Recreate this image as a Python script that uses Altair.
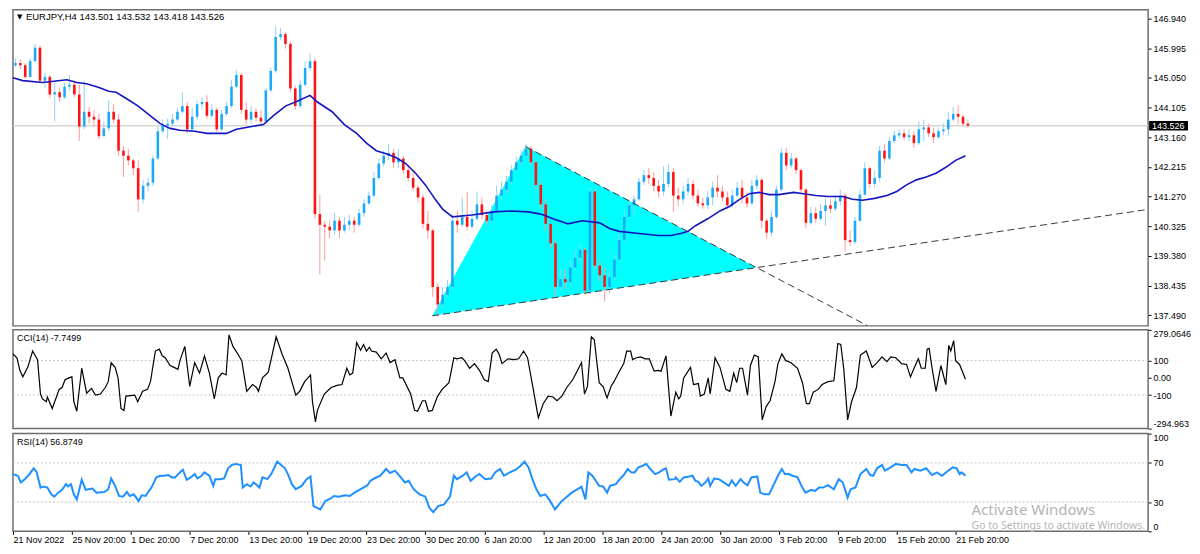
import altair as alt
import pandas as pd

# ---------------- data (EURJPY H4, one candle per two H4 bars) ----------------
close = [145.52, 145.45, 145.08, 145.58, 146.01, 144.96, 145.08, 144.52, 144.59, 144.43,
         144.77, 144.83, 144.52, 143.50, 143.97, 143.81, 143.72, 143.19, 143.44, 143.97,
         143.72, 142.73, 142.57, 142.42, 142.17, 141.18, 141.61, 141.71, 142.48, 143.35,
         143.53, 143.59, 143.72, 143.97, 144.15, 143.41, 143.81, 144.21, 144.28, 143.84,
         144.03, 143.41, 143.90, 144.15, 144.77, 145.14, 144.03, 143.72, 143.97, 143.78,
         143.66, 144.65, 145.27, 146.35, 146.44, 146.13, 144.71, 144.15, 144.83, 145.36,
         145.58, 140.71, 140.37, 140.31, 140.19, 140.50, 140.19, 140.37, 140.50, 140.37,
         140.74, 141.05, 141.30, 141.86, 142.32, 142.57, 142.66, 142.36, 142.48, 142.11,
         141.86, 141.55, 141.24, 140.40, 140.19, 138.39, 137.83, 138.14, 138.39, 140.50,
         140.37, 140.62, 140.31, 140.56, 141.02, 140.68, 140.50, 140.81, 141.30, 141.49,
         141.74, 142.11, 142.36, 142.57, 142.79, 142.36, 141.64, 141.02, 140.40, 139.78,
         138.39, 138.64, 138.54, 139.01, 139.32, 139.57, 138.27, 141.43, 139.07, 138.76,
         138.39, 138.70, 139.26, 139.88, 140.62, 140.99, 141.18, 141.74, 141.95, 141.86,
         141.61, 141.43, 141.67, 142.05, 141.30, 141.18, 141.43, 141.67, 141.30, 141.05,
         140.99, 141.24, 141.55, 141.43, 141.24, 140.99, 141.30, 141.55, 141.24, 141.05,
         141.61, 141.80, 140.50, 140.12, 140.62, 141.49, 142.66, 142.26, 142.48, 142.11,
         141.49, 140.43, 140.74, 140.56, 140.81, 140.99, 140.88, 141.12, 141.30, 139.88,
         139.82, 140.50, 141.33, 142.17, 141.67, 141.86, 142.73, 142.48, 143.04, 143.22,
         143.28, 143.16, 143.22, 142.97, 143.41, 143.47, 143.28, 143.16, 143.35, 143.41,
         143.72, 143.90, 143.81, 143.59, 143.526]

high = [145.67, 145.64, 145.52, 145.67, 146.13, 146.07, 145.21, 145.14, 144.90, 144.74,
        144.90, 145.14, 144.96, 144.83, 144.96, 144.12, 144.03, 143.90, 143.66, 144.34,
        144.21, 143.90, 142.88, 142.79, 142.48, 142.42, 141.80, 141.86, 142.57, 143.50,
        143.72, 143.75, 143.90, 144.09, 144.59, 144.28, 144.09, 144.34, 144.43, 144.49,
        144.21, 144.09, 144.03, 144.28, 144.99, 145.30, 145.21, 144.28, 144.15, 144.09,
        144.03, 144.74, 145.36, 146.69, 146.63, 146.51, 146.20, 144.80, 144.96, 145.58,
        145.83, 145.67, 141.33, 140.50, 140.50, 140.74, 140.62, 140.62, 140.68, 140.62,
        140.88, 141.18, 141.43, 142.05, 142.48, 142.73, 142.94, 142.79, 142.79, 142.57,
        142.23, 142.11, 141.64, 141.33, 140.81, 140.25, 138.51, 138.39, 138.61, 140.71,
        140.81, 141.24, 141.40, 140.81, 141.43, 141.24, 140.81, 140.99, 141.61, 141.74,
        141.92, 142.26, 142.54, 142.73, 142.94, 142.88, 142.42, 141.74, 141.18, 140.40,
        139.88, 138.95, 138.95, 139.26, 139.57, 139.75, 139.63, 141.55, 141.49, 139.26,
        139.01, 138.92, 139.44, 140.06, 140.81, 141.18, 141.30, 141.86, 142.11, 142.17,
        142.05, 141.80, 142.23, 142.29, 142.17, 141.55, 141.61, 141.86, 141.80, 141.49,
        141.24, 141.43, 141.74, 141.95, 141.61, 141.43, 141.49, 141.74, 141.80, 141.43,
        141.80, 141.95, 141.86, 140.56, 140.81, 141.61, 142.82, 142.82, 142.66, 142.54,
        142.17, 141.55, 140.93, 140.93, 141.02, 141.24, 141.18, 141.33, 141.49, 141.36,
        140.19, 140.62, 141.49, 142.36, 142.23, 142.11, 142.88, 142.94, 143.16, 143.38,
        143.41, 143.41, 143.41, 143.35, 143.66, 143.72, 143.59, 143.47, 143.47, 143.59,
        143.97, 144.12, 144.18, 143.87, 143.72]

low = [145.39, 145.33, 145.02, 145.05, 145.58, 144.90, 144.71, 144.40, 143.66, 144.28,
       144.37, 144.65, 144.43, 143.04, 143.41, 143.59, 143.50, 143.10, 143.19, 143.35,
       143.59, 142.57, 141.89, 142.26, 141.95, 140.78, 141.05, 141.43, 141.61, 142.42,
       143.28, 143.10, 143.50, 143.66, 143.90, 143.28, 143.35, 143.72, 144.03, 143.75,
       143.78, 143.32, 143.35, 143.84, 144.09, 144.71, 143.90, 143.56, 143.59, 143.66,
       143.53, 143.59, 144.59, 145.21, 146.26, 145.98, 144.59, 144.03, 144.09, 144.77,
       145.27, 140.56, 138.79, 139.23, 139.94, 140.06, 139.94, 140.12, 140.19, 140.12,
       140.31, 140.62, 140.99, 141.24, 141.80, 142.23, 142.42, 142.17, 142.17, 141.98,
       141.74, 141.43, 141.09, 140.25, 139.94, 138.08, 137.45, 137.71, 138.08, 138.33,
       140.12, 140.31, 140.19, 140.25, 140.50, 140.56, 140.37, 140.43, 140.74, 141.18,
       141.36, 141.67, 142.05, 142.26, 142.48, 142.26, 141.49, 140.88, 140.19, 139.63,
       138.08, 138.27, 138.33, 138.45, 138.95, 139.20, 138.14, 138.17, 138.95, 138.58,
       137.93, 138.20, 138.64, 139.26, 139.82, 140.56, 140.71, 141.12, 141.64, 141.67,
       141.43, 141.24, 141.30, 141.55, 140.78, 140.96, 141.05, 141.30, 141.18, 140.93,
       140.88, 140.88, 140.99, 141.24, 141.12, 140.88, 140.93, 141.24, 141.05, 140.93,
       140.99, 141.49, 140.25, 139.94, 140.00, 140.56, 141.43, 142.11, 142.17, 141.98,
       141.40, 140.25, 140.37, 140.43, 140.50, 140.34, 140.74, 140.81, 140.99, 139.54,
       139.69, 139.75, 140.43, 141.30, 141.55, 141.55, 141.74, 142.36, 142.42, 142.97,
       143.13, 143.07, 143.04, 142.82, 142.91, 143.04, 143.16, 142.97, 143.10, 143.22,
       143.19, 143.66, 143.59, 143.50, 143.47]

first_open = 145.45

# moving average (bar index, price)
ma_points = [(0, 145.05), (4, 144.96), (12, 144.90), (22, 144.99), (26, 144.90), (30, 144.86),
             (35, 144.74), (39, 144.62), (42, 144.59), (46, 144.40), (51, 144.15), (56, 143.84),
             (60, 143.59), (64, 143.44), (68, 143.38), (74, 143.35), (79, 143.28), (87, 143.28),
             (91, 143.41), (95, 143.47), (102, 143.56), (106, 143.84), (111, 144.15), (116, 144.31),
             (121, 144.49), (124, 144.28), (130, 143.97), (135, 143.56), (140, 143.28), (144, 142.97),
             (148, 142.73), (152, 142.63), (156, 142.51), (160, 142.32), (164, 142.01), (168, 141.64),
             (172, 141.18), (175, 140.87), (179, 140.62), (187, 140.68), (196, 140.78), (203, 140.81),
             (210, 140.78), (215, 140.71), (220, 140.56), (226, 140.40), (232, 140.50), (239, 140.43),
             (243, 140.25), (247, 140.16), (255, 140.09), (263, 140.03), (268, 140.03), (272, 140.09),
             (275, 140.16), (278, 140.34), (283, 140.56), (288, 140.81), (292, 140.96), (296, 141.18),
             (300, 141.36), (304, 141.40), (308, 141.33), (312, 141.33), (318, 141.40), (322, 141.36),
             (327, 141.30), (332, 141.27), (338, 141.27), (342, 141.18), (346, 141.15), (351, 141.21),
             (356, 141.30), (360, 141.43), (364, 141.64), (368, 141.80), (372, 141.89), (376, 142.01),
             (380, 142.20), (384, 142.42), (388, 142.57)]

# CCI(14) (bar index, value)
cci_points = [(0, 139), (1.6, 117), (2.8, 44), (4, 6), (6, 61), (8, 156), (10, 106), (11.2, -94),
              (12, -122), (13.6, -139), (14, -111), (16, -178), (18.8, -67), (20, -56), (21.2, -11),
              (22.8, 0), (24, 6), (24.8, -139), (26, -194), (28, 56), (30, -89), (32, -61),
              (33.6, -100), (35.6, -94), (37.6, -56), (38.8, -22), (40, 89), (41.6, 61), (42.8, 0),
              (44, -178), (45.2, -189), (46, -106), (49.6, -100), (50.8, -139), (52.8, -78),
              (54.8, -67), (56, -22), (58, 156), (59.6, 167), (60.8, 128), (62, 117), (64, 72),
              (65.6, 61), (67.2, 50), (68, 100), (70, 183), (72, -50), (74, 89), (76, 28), (78, 128),
              (80, 28), (82, -122), (83.6, 0), (85.2, 28), (86.8, 17), (88, 250), (89.6, 183),
              (91.6, 139), (93.2, 100), (95.2, -78), (97.6, -39), (99.2, -56), (100, -78),
              (101.6, 0), (104, 33), (107.2, 239), (109.6, 139), (112, 56), (115.2, -100),
              (116.8, -78), (118.8, -22), (121.2, 17), (122, -139), (123.2, -256), (124, -189),
              (126.8, -94), (129.6, -56), (132, -44), (134, -39), (136, 56), (137.2, 17), (138.4, 28),
              (140, 206), (141.6, 161), (142.8, 194), (144, 156), (145.2, 178), (146, 156), (148, 150),
              (150, 111), (152, 144), (153.6, 89), (155.6, 106), (157.6, 0), (158.8, 0), (162, -94),
              (163.6, -189), (164.8, -194), (166.8, -133), (168, -133), (169.2, -194), (170.8, -189),
              (172.8, -111), (174.8, -67), (177.6, -28), (179.6, 117), (180.8, 111), (182.8, 117),
              (184, 100), (186, 56), (188, 83), (190, 44), (192, -11), (193.6, -22), (195.2, 144),
              (196.8, 167), (198, 139), (199.2, 83), (201.6, 111), (204, 106), (206, 111), (208, 156),
              (209.6, 117), (211.6, -39), (214, -233), (216, -150), (218, -106), (220, -111),
              (221.6, -133), (223.6, -106), (225.6, -56), (228, -11), (230, 44), (231.6, 89),
              (232.8, -94), (234, -50), (235.6, 239), (236.8, 222), (238.8, -28), (240.4, -50),
              (242, -117), (243.6, -50), (244.8, -22), (246.8, 33), (248.8, 83), (250, 156),
              (251.6, 156), (252.4, 106), (254, 117), (255.6, 122), (257.6, 111), (259.2, 111),
              (261.2, 39), (262.8, 44), (264, 39), (266, 128), (268, -222), (270, -83), (271.2, -122),
              (272, -106), (273.2, 0), (276, 61), (277.2, -39), (279.2, -33), (280, -106),
              (281.6, -94), (283.2, 0), (284, -94), (286, 117), (288, 61), (290.4, -67), (292, -78),
              (293.6, 28), (294.8, -28), (296, 56), (297.2, 56), (299.2, -100), (300.4, 72),
              (302, 133), (303.6, 122), (305.2, -244), (306.8, -167), (308.4, -133), (310.4, -22),
              (311.6, 83), (313.2, 139), (314.8, 100), (316.8, 89), (319.6, 56), (321.6, -28),
              (323.2, -150), (324.4, -150), (326, -83), (328, -67), (329.6, -39), (332, -22),
              (334.4, -17), (336, 200), (337.2, 194), (338.4, 56), (340, -244), (341.6, -139),
              (343.6, -56), (345.2, 133), (347.6, 156), (350, 61), (352, 89), (354, 122), (356, 94),
              (357.6, 122), (359.6, 117), (362, 83), (364, 78), (365.6, 6), (367.2, 61),
              (368.8, 111), (370, 56), (371.6, 56), (372.4, 167), (373.2, 172), (374.4, 56),
              (376, -78), (378, 72), (380, -39), (381.2, 189), (382, 156), (383.2, 217), (384, 100),
              (385.6, 78), (388, -7.7499)]

# RSI(14) (bar index, value)
rsi_points = [(0, 58.6), (2, 56.9), (3.2, 50.0), (4.8, 53.4), (6.4, 57.6), (8.4, 64.5), (9.6, 61.0),
              (11.2, 44.8), (12.4, 45.9), (14, 44.8), (15.6, 37.9), (16.8, 35.5), (18.4, 39.6),
              (20, 42.4), (21.6, 48.3), (22.4, 45.9), (23.6, 48.3), (24.8, 37.9), (26, 32.7),
              (28, 52.8), (29.6, 42.4), (30.8, 43.1), (32.4, 43.8), (34, 39.6), (37.2, 40.3),
              (38.8, 43.1), (40, 54.1), (41.6, 46.5), (43.2, 36.2), (44.8, 35.5), (46.4, 40.3),
              (47.6, 36.2), (49.2, 37.9), (51.2, 31.0), (52.4, 36.9), (54, 36.2), (56.4, 44.8),
              (58.4, 55.2), (60, 56.9), (61.6, 56.9), (63.2, 57.6), (64.8, 55.2), (66, 55.2),
              (68, 60.3), (69.2, 63.1), (70.8, 52.8), (72.4, 55.2), (74, 58.6), (75.2, 54.1),
              (76.8, 56.9), (78, 60.3), (80, 56.9), (81.6, 46.5), (82.4, 53.4), (84.4, 53.4),
              (86, 54.1), (87.6, 64.5), (89.2, 67.9), (90.8, 69.0), (92.8, 67.9), (93.6, 44.8),
              (95.2, 48.3), (96.8, 45.9), (98, 50.0), (99.2, 47.6), (100.4, 44.8), (101.6, 55.2),
              (103.6, 53.4), (105.2, 58.6), (107.6, 71.4), (109.2, 67.9), (110.8, 64.5), (112, 58.6),
              (113.6, 48.3), (115.2, 43.1), (117.6, 46.5), (119.6, 53.4), (121.2, 56.2), (122.4, 25.8),
              (125.2, 22.4), (127.2, 31.0), (129.2, 33.4), (130.8, 36.2), (132.8, 35.5), (135.2, 36.9),
              (137.2, 36.2), (139.6, 40.3), (142, 43.8), (144.4, 47.2), (145.6, 51.7), (147.2, 54.1),
              (149.6, 56.9), (152, 63.8), (153.6, 59.7), (155.6, 62.1), (158, 55.2), (159.6, 50.0),
              (161.2, 51.7), (163.2, 43.1), (165.6, 37.9), (168, 35.5), (169.6, 24.1), (171.2, 19.6),
              (173.2, 25.8), (175.6, 27.6), (178, 35.5), (179.6, 56.9), (180.8, 53.4), (183.2, 56.9),
              (184.8, 60.3), (186.4, 51.7), (188.8, 56.9), (190, 58.6), (192.4, 53.4), (194.8, 54.1),
              (196.4, 60.3), (198.4, 63.8), (200, 56.9), (202.4, 60.3), (204.8, 63.1), (206.8, 67.2),
              (208.4, 71.4), (210, 65.5), (211.6, 53.4), (213.2, 43.1), (214.8, 36.2), (216.8, 37.9),
              (218.4, 32.7), (220.8, 22.4), (223.2, 30.0), (225.2, 34.5), (227.6, 39.6), (230, 43.1),
              (231.6, 45.5), (233.2, 32.7), (234.4, 60.3), (236, 56.9), (238.8, 46.5), (240.4, 45.9),
              (242, 39.6), (243.2, 46.5), (245.6, 48.3), (247.2, 53.4), (248.8, 57.6), (250.4, 63.8),
              (252, 60.3), (253.2, 60.3), (254.8, 65.5), (257.2, 67.9), (258, 69.0), (259.6, 63.8),
              (261.6, 58.6), (263.2, 60.3), (264.8, 63.1), (266, 64.5), (267.2, 52.8), (269.6, 53.4),
              (270, 55.2), (271.6, 50.7), (273.2, 55.2), (275.6, 56.2), (276.8, 56.9), (278, 51.7),
              (279.2, 50.7), (280.4, 46.5), (282, 50.0), (283.2, 54.1), (284, 46.5), (285.6, 54.1),
              (287.6, 53.4), (290, 49.3), (291.6, 46.5), (292.8, 52.1), (294.4, 46.5), (296.4, 53.4),
              (297.6, 50.0), (299.2, 47.2), (300.8, 55.2), (303.2, 56.2), (304.4, 39.6), (306, 37.9),
              (308, 37.9), (310, 48.3), (311.6, 56.9), (313.2, 63.8), (314.4, 58.6), (316, 58.6),
              (317.6, 56.9), (319.6, 55.2), (321.2, 46.5), (322.8, 39.6), (325.2, 42.4), (326.8, 41.4),
              (328.4, 44.8), (330, 44.8), (332, 47.2), (334.4, 43.1), (336.4, 53.4), (338, 50.0),
              (340, 34.5), (341.2, 43.1), (343.2, 44.8), (345.2, 58.6), (347.6, 63.8), (349.2, 57.6),
              (350.4, 56.9), (352, 64.5), (354, 67.9), (355.2, 62.1), (357.6, 65.5), (359.6, 69.0),
              (362, 67.9), (364, 67.9), (366, 60.3), (367.2, 63.8), (369.6, 62.1), (372, 64.5),
              (374.4, 57.6), (376.4, 60.3), (378.4, 56.9), (380.4, 61.0), (382.8, 65.5), (384.4, 64.5),
              (385.6, 58.6), (386.4, 60.3), (388, 56.8749)]

# drawn triangle (bar index, price) and the two dashed trend lines
tri_bar = [170.8, 208.8, 302.8]
tri_price = [137.47, 142.86, 139.01]
trend_low = [(170.8, 137.47), (462.4, 140.86)]
trend_high = [(208.8, 142.86), (348.0, 137.16)]

price_ticks = [146.940, 145.995, 145.050, 144.105, 143.160, 142.215, 141.270,
               140.325, 139.380, 138.435, 137.490]
cci_ticks = [279.0646, 100, 0, -100, -294.963]
cci_tick_labels = ["279.0646", "100", "0.00", "-100", "-294.963"]
rsi_ticks = [100, 70, 30, 0]
date_tick_bars = [0, 24, 48, 72, 96, 120, 144, 168, 192, 216, 240, 264, 288, 312, 336, 360, 384]
date_labels = ["21 Nov 2022", "25 Nov 20:00", "1 Dec 20:00", "7 Dec 20:00", "13 Dec 20:00",
               "19 Dec 20:00", "23 Dec 20:00", "30 Dec 20:00", "6 Jan 20:00", "12 Jan 20:00",
               "18 Jan 20:00", "24 Jan 20:00", "30 Jan 20:00", "3 Feb 20:00", "9 Feb 20:00",
               "15 Feb 20:00", "21 Feb 20:00"]

last_price = 143.526
title_text = "EURJPY,H4  143.501 143.532 143.418 143.526"
cci_text = "CCI(14) -7.7499"
rsi_text = "RSI(14) 56.8749"
watermark_1 = "Activate Windows"
watermark_2 = "Go to Settings to activate Windows."

# ---------------- layout ----------------
W = 1138
H_MAIN, H_CCI, H_RSI = 317, 99, 98
X_DOMAIN = [0, 462.4]
FONT = "Liberation Sans"

xs = alt.Scale(domain=X_DOMAIN, nice=False, zero=False)
ys_main = alt.Scale(domain=[137.15, 147.22], nice=False, zero=False)
ys_cci = alt.Scale(domain=[-294.963, 279.0646], nice=False, zero=False)
ys_rsi = alt.Scale(domain=[0, 100], nice=False, zero=False)

ax_main = alt.Axis(orient="right", values=price_ticks, format=".3f", grid=False, domain=False,
                   tickSize=3, tickColor="#000000", labelFontSize=9, labelFont=FONT,
                   labelColor="#000000", labelPadding=2, title=None)
cci_expr = "".join(f"abs(datum.value - ({v})) < 0.01 ? '{s}' : " for v, s in zip(cci_ticks, cci_tick_labels)) + "''"
ax_cci = alt.Axis(orient="right", values=cci_ticks, labelExpr=cci_expr, grid=False, domain=False,
                  tickSize=3, tickColor="#000000", labelFontSize=9, labelFont=FONT,
                  labelColor="#000000", labelPadding=2, labelFlush=True, title=None)
ax_rsi = alt.Axis(orient="right", values=rsi_ticks, format="d", grid=False, domain=False,
                  tickSize=3, tickColor="#000000", labelFontSize=9, labelFont=FONT,
                  labelColor="#000000", labelPadding=2, labelFlush=True, title=None)
labels_js = "[" + ",".join(f"'{s}'" for s in date_labels) + "]"
ax_x = alt.Axis(orient="bottom", values=date_tick_bars, labelExpr=f"{labels_js}[round(datum.value / 24)]",
                grid=False, domain=False, tickSize=3, tickColor="#000000", labelAlign="left",
                labelFontSize=9, labelFont=FONT, labelColor="#000000", labelPadding=1,
                labelOverlap=False, labelFlush=False, labelBound=False, title=None)

# candles
candles = pd.DataFrame({
    "t": [2 * k + 1 for k in range(len(close))],
    "o": [first_open] + close[:-1],   # FX candles open at the previous close
    "h": high, "l": low, "c": close,
})
up = "datum.c >= datum.o"
cbase = alt.Chart(candles)
wicks = cbase.mark_rule(strokeWidth=1).encode(
    x=alt.X("t:Q", scale=xs, axis=None),
    y=alt.Y("l:Q", scale=ys_main, axis=ax_main),
    y2="h:Q",
    color=alt.condition(up, alt.value("#8ed2fa"), alt.value("#ff9a9a")),
)
bodies = cbase.mark_rule(strokeWidth=2.6).encode(
    x=alt.X("t:Q", scale=xs, axis=None),
    y=alt.Y("o:Q", scale=ys_main, axis=ax_main),
    y2="c:Q",
    color=alt.condition(up, alt.value("#1ea9f6"), alt.value("#ff1212")),
)

ma_df = pd.DataFrame(ma_points, columns=["t", "v"])
ma_line = alt.Chart(ma_df).mark_line(color="#1414c2", strokeWidth=1.6).encode(
    x=alt.X("t:Q", scale=xs, axis=None),
    y=alt.Y("v:Q", scale=ys_main, axis=ax_main),
)

# triangle: lower edge at the apex position lies on the A-C side
lo_mid = tri_price[0] + (tri_bar[1] - tri_bar[0]) / (tri_bar[2] - tri_bar[0]) * (tri_price[2] - tri_price[0])
tri_df = pd.DataFrame({"t": tri_bar, "top": tri_price, "bot": [tri_price[0], lo_mid, tri_price[2]]})
triangle = alt.Chart(tri_df).mark_area(color="#00ffff", opacity=1).encode(
    x=alt.X("t:Q", scale=xs, axis=None),
    y=alt.Y("top:Q", scale=ys_main, axis=ax_main),
    y2="bot:Q",
)

tl_df = pd.DataFrame(
    [(t, p, "low") for t, p in trend_low] + [(t, p, "high") for t, p in trend_high],
    columns=["t", "p", "id"])
trends = alt.Chart(tl_df).mark_line(color="#3a3a3a", strokeWidth=1, strokeDash=[7, 4], clip=True).encode(
    x=alt.X("t:Q", scale=xs, axis=None),
    y=alt.Y("p:Q", scale=ys_main, axis=ax_main),
    detail="id:N",
)

lp_df = pd.DataFrame({"p": [last_price]})
price_line = alt.Chart(lp_df).mark_rule(color="#d6d6d6", strokeWidth=1.5).encode(
    y=alt.Y("p:Q", scale=ys_main, axis=ax_main),
)
price_box = alt.Chart(lp_df).transform_calculate(
    hi="datum.p + 0.15", lo="datum.p - 0.15"
).mark_rect(color="#000000").encode(
    x=alt.value(W + 1), x2=alt.value(W + 40),
    y=alt.Y("hi:Q", scale=ys_main, axis=ax_main), y2="lo:Q",
)
price_txt = alt.Chart(lp_df).mark_text(align="left", baseline="middle", color="#ffffff",
                                       fontSize=9, font=FONT).encode(
    x=alt.value(W + 4),
    y=alt.Y("p:Q", scale=ys_main, axis=ax_main),
    text=alt.value(f"{last_price:.3f}"),
)

one = pd.DataFrame({"a": [0]})
title_mark = alt.Chart(one).mark_text(align="left", baseline="middle", fontSize=9.5,
                                      font=FONT, color="#000000").encode(
    x=alt.value(13), y=alt.value(7), text=alt.value(title_text))
title_arrow = alt.Chart(one).mark_text(align="left", baseline="middle", fontSize=7,
                                       font="DejaVu Sans", color="#000000").encode(
    x=alt.value(4), y=alt.value(7), text=alt.value("\u25bc"))

main = alt.layer(price_line, triangle, wicks, bodies, ma_line, trends,
                 price_box, price_txt, title_mark, title_arrow).properties(width=W, height=H_MAIN)

# CCI panel
cci_df = pd.DataFrame(cci_points, columns=["t", "v"])
cci_levels = pd.DataFrame({"v": [100, -100]})
cci_grid = alt.Chart(cci_levels).mark_rule(color="#c4c4c4", strokeDash=[2, 2], strokeWidth=1).encode(
    y=alt.Y("v:Q", scale=ys_cci, axis=ax_cci))
cci_line = alt.Chart(cci_df).mark_line(color="#000000", strokeWidth=1.2).encode(
    x=alt.X("t:Q", scale=xs, axis=None),
    y=alt.Y("v:Q", scale=ys_cci, axis=ax_cci))
cci_label = alt.Chart(one).mark_text(align="left", baseline="top", fontSize=9, font=FONT,
                                     color="#000000").encode(
    x=alt.value(4), y=alt.value(4), text=alt.value(cci_text))
cci = alt.layer(cci_grid, cci_line, cci_label).properties(width=W, height=H_CCI)

# RSI panel
rsi_df = pd.DataFrame(rsi_points, columns=["t", "v"])
rsi_levels = pd.DataFrame({"v": [70, 30]})
rsi_grid = alt.Chart(rsi_levels).mark_rule(color="#c4c4c4", strokeDash=[2, 2], strokeWidth=1).encode(
    y=alt.Y("v:Q", scale=ys_rsi, axis=ax_rsi))
rsi_line = alt.Chart(rsi_df).mark_line(color="#1e90ff", strokeWidth=2).encode(
    x=alt.X("t:Q", scale=xs, axis=ax_x),
    y=alt.Y("v:Q", scale=ys_rsi, axis=ax_rsi))
rsi_label = alt.Chart(one).mark_text(align="left", baseline="top", fontSize=9, font=FONT,
                                     color="#000000").encode(
    x=alt.value(4), y=alt.value(4), text=alt.value(rsi_text))
wm1 = alt.Chart(one).mark_text(align="left", baseline="alphabetic", fontSize=15, font="Noto Sans",
                               color="#b4b4b4").encode(
    x=alt.value(961), y=alt.value(82), text=alt.value(watermark_1))
wm2 = alt.Chart(one).mark_text(align="left", baseline="alphabetic", fontSize=10.5, font="Noto Sans",
                               color="#b4b4b4").encode(
    x=alt.value(961), y=alt.value(96), text=alt.value(watermark_2))
rsi = alt.layer(rsi_grid, rsi_line, rsi_label, wm1, wm2).properties(width=W, height=H_RSI)

chart = alt.vconcat(main, cci, rsi, spacing=1).properties(
    padding={"left": 0, "top": 0, "right": 0, "bottom": 0}
).configure(font=FONT, background="#ffffff").configure_view(
    stroke="#6e6e6e", strokeWidth=1.5
)

chart.save("out.html", embed_options={"renderer": "svg", "actions": False})
